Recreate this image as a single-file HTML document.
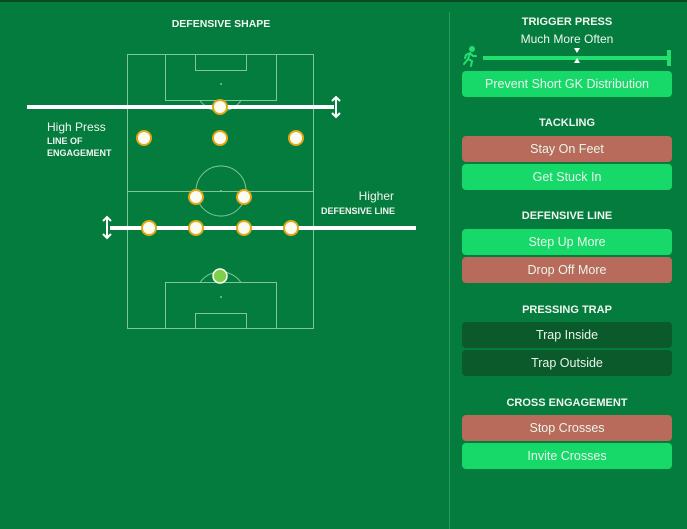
<!DOCTYPE html>
<html><head><meta charset="utf-8"><style>
body{margin:0;width:687px;height:529px;overflow:hidden;background:#047c3d;font-family:"Liberation Sans",sans-serif}
.b{position:absolute;left:462px;width:210px;height:26px;border-radius:4px;color:#e8f5ea;font-size:12.5px;line-height:26px;text-align:center}
.g{background:#16d96a}.r{background:#b86a5b}.d{background:#0a5a2b}
.h{position:absolute;left:462px;width:210px;text-align:center;color:#f0f5f0;font-size:11px;font-weight:bold}
</style></head><body>
<div style="position:absolute;left:0;top:0;width:687px;height:2px;background:#0c4a26"></div>
<div style="position:absolute;left:449px;top:12px;width:1px;height:517px;background:#2a9a5a"></div>
<svg width="450" height="529" style="position:absolute;left:0;top:0" font-family="Liberation Sans, sans-serif">
<text x="221" y="27" fill="#f0f5f0" font-size="10.5" font-weight="bold" text-anchor="middle">DEFENSIVE SHAPE</text>
<g stroke="#7fc79b" stroke-width="1" fill="none">
<rect x="127.5" y="54.5" width="186" height="274"/>
<rect x="165.5" y="54.5" width="111" height="46"/>
<rect x="195.5" y="54.5" width="51" height="16"/>
<rect x="165.5" y="282.5" width="111" height="46"/>
<rect x="195.5" y="313.5" width="51" height="15"/>
<line x1="127.5" y1="191.5" x2="313.5" y2="191.5"/>
<circle cx="221" cy="191" r="25"/>
<path d="M200 100.5 A25 25 0 0 0 241 100.5"/>
<path d="M200 282.5 A25 25 0 0 1 241 282.5"/>
</g>
<g fill="#7fc79b"><circle cx="221" cy="84" r="1"/><circle cx="221" cy="191" r="1"/><circle cx="221" cy="297" r="1"/></g>
<line x1="27" y1="107" x2="334" y2="107" stroke="#fff" stroke-width="4"/>
<path d="M336 98v18M332 101l4-4 4 4M332 113l4 4 4-4" stroke="#fff" stroke-width="2" fill="none"/>
<line x1="110" y1="228" x2="416" y2="228" stroke="#fff" stroke-width="4"/>
<path d="M107 218v19M103 221l4-4 4 4M103 234l4 4 4-4" stroke="#fff" stroke-width="2" fill="none"/>
<g fill="#fbfbf2" stroke="#e4a816" stroke-width="2">
<circle cx="220" cy="107" r="7"/><circle cx="144" cy="138" r="7"/><circle cx="220" cy="138" r="7"/><circle cx="296" cy="138" r="7"/>
<circle cx="196" cy="197" r="7"/><circle cx="244" cy="197" r="7"/>
<circle cx="149" cy="228" r="7"/><circle cx="196" cy="228" r="7"/><circle cx="244" cy="228" r="7"/><circle cx="291" cy="228" r="7"/>
</g>
<circle cx="220" cy="276" r="7" fill="#7ed04a" stroke="#fff" stroke-width="1.5"/>
<text x="47" y="131" fill="#f0f5f0" font-size="12">High Press</text>
<text x="47" y="144" fill="#f0f5f0" font-size="9" font-weight="bold">LINE OF</text>
<text x="47" y="156" fill="#f0f5f0" font-size="9" font-weight="bold">ENGAGEMENT</text>
<text x="394" y="200" fill="#f0f5f0" font-size="12" text-anchor="end">Higher</text>
<text x="395" y="214" fill="#f0f5f0" font-size="9" font-weight="bold" text-anchor="end">DEFENSIVE LINE</text>
</svg>
<div class="h" style="top:16px">TRIGGER PRESS</div>
<div class="h" style="top:32px;font-weight:normal;font-size:12px">Much More Often</div>
<svg width="230" height="30" style="position:absolute;left:457px;top:45px">
<g stroke="#22e070" stroke-width="2" fill="none" stroke-linecap="round">
<circle cx="15" cy="4" r="2" fill="#22e070"/>
<path d="M13 8l-2 6 4 2-1 5M11 14l-4 5M13 8l3 3 3 0M13 8l-4 2-1 3"/>
</g>
<rect x="26" y="11" width="187" height="4" fill="#22e070"/>
<rect x="210" y="5" width="4" height="16" fill="#22e070"/>
<path d="M117 3h6l-3 5zM117 18h6l-3-5z" fill="#fff"/>
</svg>
<div class="b g" style="top:71px">Prevent Short GK Distribution</div>
<div class="h" style="top:117px">TACKLING</div>
<div class="b r" style="top:136px">Stay On Feet</div>
<div class="b g" style="top:164px">Get Stuck In</div>
<div class="h" style="top:210px">DEFENSIVE LINE</div>
<div class="b g" style="top:229px">Step Up More</div>
<div class="b r" style="top:257px">Drop Off More</div>
<div class="h" style="top:304px">PRESSING TRAP</div>
<div class="b d" style="top:322px">Trap Inside</div>
<div class="b d" style="top:350px">Trap Outside</div>
<div class="h" style="top:397px">CROSS ENGAGEMENT</div>
<div class="b r" style="top:415px">Stop Crosses</div>
<div class="b g" style="top:443px">Invite Crosses</div>
</body></html>
